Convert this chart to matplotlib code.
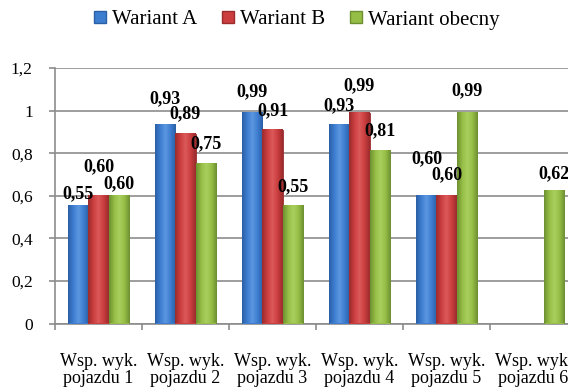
import numpy as np
import matplotlib.pyplot as plt
from matplotlib.patches import Patch
from matplotlib.colors import LinearSegmentedColormap

plt.rcParams['font.family'] = 'serif'
plt.rcParams['font.serif'] = ['Liberation Serif', 'Times New Roman', 'DejaVu Serif']

# data
categories = ["Wsp. wyk.\npojazdu 1", "Wsp. wyk.\npojazdu 2", "Wsp. wyk.\npojazdu 3",
              "Wsp. wyk.\npojazdu 4", "Wsp. wyk.\npojazdu 5", "Wsp. wyk.\npojazdu 6"]
series_names = ["Wariant A", "Wariant B", "Wariant obecny"]
wariant_a = [0.55, 0.93, 0.99, 0.93, 0.60, np.nan]
wariant_b = [0.60, 0.89, 0.91, 0.99, 0.60, np.nan]
wariant_obecny = [0.60, 0.75, 0.55, 0.81, 0.99, 0.62]

colors = ["#3D7DD0", "#CB3D3E", "#95BE46"]
lights = ["#5C97E0", "#DC5A5A", "#A9CF5E"]
edges = ["#2B5FA6", "#9A2C2D", "#6D8F31"]

# label baseline lift above the bar top, in pixels (Excel nudged some to avoid overlap)
label_lift = [[8, 22, 16, 15, 33, 0],
              [25, 16, 15, 22, 17, 0],
              [8, 16, 15, 16, 17, 13]]

fig = plt.figure(figsize=(5.68, 3.87), dpi=100)
ax = fig.add_axes([55/568, 1 - 323.5/387, 522/568, 255.5/387])

x = np.arange(len(categories))
w = 0.23
grad = np.linspace(0, 1, 64).reshape(1, -1)
all_series = [wariant_a, wariant_b, wariant_obecny]
for i, vals in enumerate(all_series):
    pos = x + (i - 1) * w
    cmap = LinearSegmentedColormap.from_list(
        "c%d" % i, [edges[i], colors[i], lights[i], colors[i], edges[i]])
    bars = ax.bar(pos, vals, width=w, color=colors[i], edgecolor=edges[i],
                  linewidth=0.6, zorder=3)
    # cylinder-like shading like the Excel bevel
    for b in bars:
        h = b.get_height()
        if np.isnan(h):
            continue
        ax.imshow(grad, cmap=cmap, aspect="auto", zorder=3.5,
                  extent=[b.get_x(), b.get_x() + b.get_width(), 0, h])
    for j, v in enumerate(vals):
        if np.isnan(v):
            continue
        ax.annotate(("%.2f" % v).replace(".", ","), xy=(pos[j], v),
                    xytext=(0, label_lift[i][j]), textcoords="offset pixels",
                    ha="center", va="baseline", fontsize=13, fontweight="bold", zorder=5)

ax.set_xlim(-0.5, len(categories) - 0.5)
ax.set_ylim(0, 1.2)
ax.set_yticks(np.arange(0, 1.21, 0.2))
ax.set_yticklabels(["0", "0,2", "0,4", "0,6", "0,8", "1", "1,2"])
ax.set_xticks(np.arange(len(categories) + 1) - 0.5, minor=True)
ax.set_xticks(x)
ax.set_xticklabels(categories, linespacing=1.05)
ax.tick_params(axis="x", which="major", length=0, pad=21, labelsize=13)
ax.tick_params(axis="x", which="minor", length=4.5, width=1.2, color="#8C8C8C")
ax.tick_params(axis="y", length=4, width=1.2, color="#8C8C8C", pad=12, labelsize=12.5)

ax.grid(axis="y", color="#8C8C8C", linewidth=1.2, zorder=0)
for s in ["top", "right"]:
    ax.spines[s].set_visible(False)
for s in ["left", "bottom"]:
    ax.spines[s].set_color("#8C8C8C")
    ax.spines[s].set_linewidth(1.2)

handles = [Patch(facecolor=colors[i], edgecolor=edges[i]) for i in range(3)]
fig.legend(handles, series_names, loc="center", bbox_to_anchor=(297/568, 1 - 20/387),
           ncol=3, frameon=False, fontsize=15, handlelength=0.55, handleheight=0.55,
           handletextpad=0.3, columnspacing=1.2, borderaxespad=0)

fig.savefig("out.png", dpi=100)
